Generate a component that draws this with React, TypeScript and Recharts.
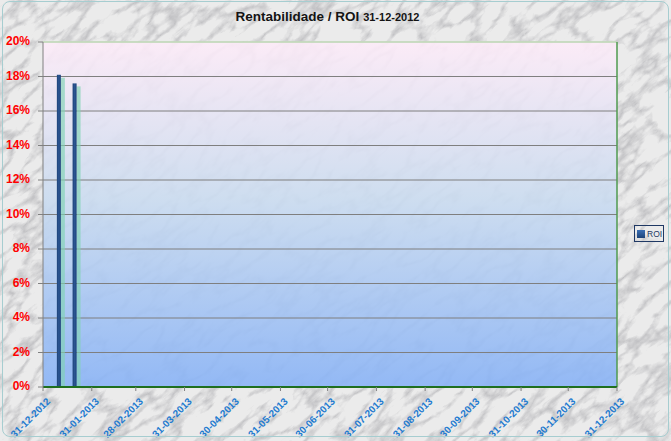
import React from "react";
import {
  BarChart,
  Bar,
  XAxis,
  YAxis,
  CartesianGrid,
  ReferenceLine,
} from "recharts";

// ROI readings (percent) by date
const dates = ["10-01-2013", "20-01-2013"];
const roi = [18.1, 17.6];

const axisStart = "31-12-2012";
const tickDates = [
  "31-12-2012",
  "31-01-2013",
  "28-02-2013",
  "31-03-2013",
  "30-04-2013",
  "31-05-2013",
  "30-06-2013",
  "31-07-2013",
  "31-08-2013",
  "30-09-2013",
  "31-10-2013",
  "30-11-2013",
  "31-12-2013",
];
const yTicks = [0, 2, 4, 6, 8, 10, 12, 14, 16, 18, 20];

const W = 671;
const H = 441;

function toUtc(s: string) {
  const [d, m, y] = s.split("-").map(Number);
  return Date.UTC(y, m - 1, d);
}
const dayOf = (s: string) => Math.round((toUtc(s) - toUtc(axisStart)) / 86400000);

const data = dates.map((d, i) => ({ day: dayOf(d), roi: roi[i] }));
const xTicks = tickDates.map(dayOf);
const tickLabel: Record<number, string> = {};
tickDates.forEach((d) => (tickLabel[dayOf(d)] = d));

function ShadowBar(props: any) {
  const { x, y, width, height } = props;
  return (
    <g>
      <rect x={x + width} y={y + 3} width={4} height={height - 3} fill="#7fd3b4" fillOpacity={0.65} />
      <rect x={x} y={y} width={width} height={height} fill="url(#barGrad)" />
    </g>
  );
}

// diagonal date label laid along a 45° path ending just below the tick
function DateTick(props: any) {
  const { x, y, payload } = props;
  const id = `xlbl-${payload.value}`;
  const ex = x + 8;
  const ey = y + 9;
  return (
    <g>
      <defs>
        <path id={id} d={`M ${ex - 60} ${ey + 60} L ${ex} ${ey}`} />
      </defs>
      <text
        fill="#1f7bd0"
        fontSize={10}
        fontWeight="bold"
        fontFamily="Liberation Sans, Arial, sans-serif"
      >
        <textPath href={`#${id}`} startOffset="100%" textAnchor="end">
          {tickLabel[payload.value]}
        </textPath>
      </text>
    </g>
  );
}

function Marble() {
  return (
    <svg width={W} height={H} style={{ position: "absolute", left: 0, top: 0 }}>
      <defs>
        <filter id="marble" x="0" y="0" width="100%" height="100%">
          <feTurbulence type="turbulence" baseFrequency="0.025 0.06" numOctaves={5} seed={11} />
          <feColorMatrix
            type="matrix"
            values="0 0 0 0 0.45  0 0 0 0 0.45  0 0 0 0 0.47  -2.4 0 0 0 0.85"
          />
        </filter>
        <linearGradient id="plotBg" x1="0" y1="0" x2="0" y2="1">
          <stop offset="0%" stopColor="#fdebf8" />
          <stop offset="45%" stopColor="#cbdcf0" />
          <stop offset="100%" stopColor="#89b3f6" />
        </linearGradient>
        <linearGradient id="barGrad" x1="0" y1="0" x2="1" y2="0">
          <stop offset="0%" stopColor="#1d4379" />
          <stop offset="50%" stopColor="#2b5592" />
          <stop offset="100%" stopColor="#1d4379" />
        </linearGradient>
        <linearGradient id="legGrad" x1="0" y1="0" x2="0" y2="1">
          <stop offset="0%" stopColor="#3b6fb5" />
          <stop offset="100%" stopColor="#1d4379" />
        </linearGradient>
      </defs>
      <rect width={W} height={H} fill="#ebebeb" />
      <g transform="rotate(-40 335 220)">
        <rect x={-250} y={-350} width={1200} height={1200} filter="url(#marble)" />
      </g>
    </svg>
  );
}

export default function App() {
  return (
    <div style={{ position: "relative", width: W, height: H, overflow: "hidden" }}>
      <style>{"body{margin:0}"}</style>
      <Marble />
      <div style={{ position: "absolute", left: 0, top: 0 }}>
        <BarChart width={W} height={H} data={data} margin={{ top: 42, right: 54, bottom: 0, left: 0 }}>
          <CartesianGrid
            vertical={false}
            stroke="#7f7f7f"
            fill="url(#plotBg)"
            fillOpacity={0.9}
          />
          <XAxis
            dataKey="day"
            type="number"
            domain={[0, 365]}
            ticks={xTicks}
            interval={0}
            height={54}
            stroke="#1f6f1f"
            strokeWidth={2}
            tickLine={{ stroke: "#808080", strokeWidth: 1 }}
            tickSize={4}
            tickMargin={2}
            tick={<DateTick />}
          />
          <YAxis
            domain={[0, 20]}
            ticks={yTicks}
            interval={0}
            width={43}
            stroke="#808080"
            tickSize={5}
            tickMargin={8}
            tickFormatter={(v) => `${v}%`}
            tick={{ dy: -1, fill: "#ff0000", fontSize: 12, fontWeight: "bold", fontFamily: "Liberation Sans, Arial, sans-serif" }}
          />
          <ReferenceLine y={20} stroke="#cfe8c6" strokeWidth={1.5} />
          <ReferenceLine x={365} stroke="#4f9a4f" strokeWidth={1.5} />
          <Bar dataKey="roi" barSize={4} shape={<ShadowBar />} isAnimationActive={false} />
        </BarChart>
      </div>
      <div
        style={{
          position: "absolute",
          left: -8,
          top: 8,
          width: W,
          textAlign: "center",
          fontFamily: "Liberation Sans, Arial, sans-serif",
          fontWeight: "bold",
          color: "#141414",
          fontSize: 13.5,
          lineHeight: "18px",
        }}
      >
        Rentabilidade / ROI <span style={{ fontSize: 11 }}>{axisStart}</span>
      </div>
      <div
        style={{
          position: "absolute",
          left: 634,
          top: 225,
          width: 26,
          height: 15,
          border: "1.5px solid #1f3864",
          display: "flex",
          alignItems: "center",
          gap: 2,
          paddingLeft: 2,
          fontFamily: "Liberation Sans, Arial, sans-serif",
          fontSize: 8.5,
          color: "#1f3864",
        }}
      >
        <svg width={8} height={8}>
          <rect width={8} height={8} fill="url(#legGrad)" />
        </svg>
        ROI
      </div>
      <div
        style={{
          position: "absolute",
          left: 2,
          top: 1,
          width: 665,
          height: 434,
          border: "1px solid #a6cdd0",
          borderRadius: 8,
          pointerEvents: "none",
        }}
      />
    </div>
  );
}
